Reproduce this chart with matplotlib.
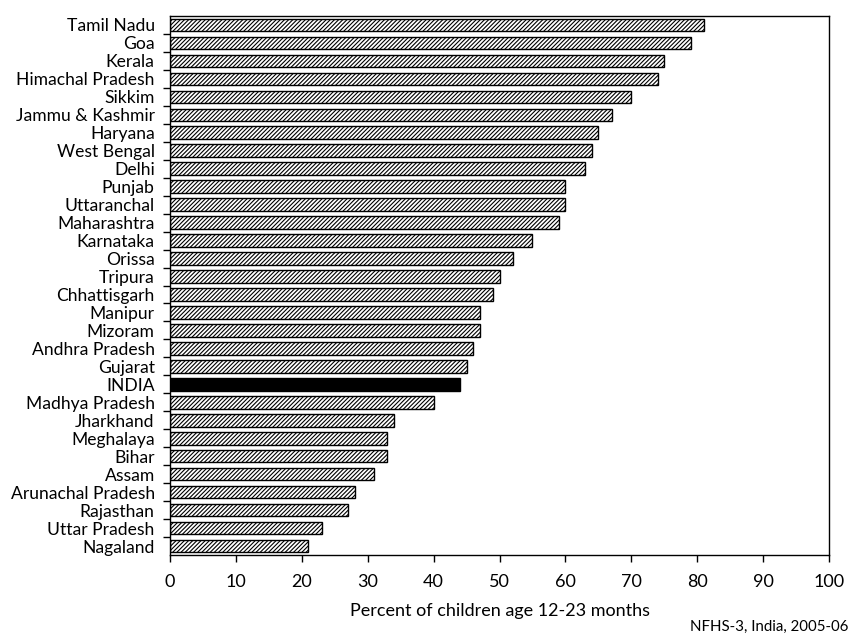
import matplotlib
matplotlib.use("Agg")
import matplotlib.pyplot as plt
import numpy as np

# data, top to bottom as in the chart
states = ["Tamil Nadu", "Goa", "Kerala", "Himachal Pradesh", "Sikkim",
          "Jammu & Kashmir", "Haryana", "West Bengal", "Delhi", "Punjab",
          "Uttaranchal", "Maharashtra", "Karnataka", "Orissa", "Tripura",
          "Chhattisgarh", "Manipur", "Mizoram", "Andhra Pradesh", "Gujarat",
          "INDIA", "Madhya Pradesh", "Jharkhand", "Meghalaya", "Bihar",
          "Assam", "Arunachal Pradesh", "Rajasthan", "Uttar Pradesh", "Nagaland"]
percent = [81, 79, 75, 74, 70, 67, 65, 64, 63, 60, 60, 59, 55, 52, 50,
           49, 47, 47, 46, 45, 44, 40, 34, 33, 33, 31, 28, 27, 23, 21]
x_ticks = [0, 10, 20, 30, 40, 50, 60, 70, 80, 90, 100]
x_label = "Percent of children age 12-23 months"
source = "NFHS-3, India, 2005-06"

plt.rcParams['font.family'] = ['Lato', 'DejaVu Sans']
plt.rcParams['hatch.linewidth'] = 0.8

fig = plt.figure(figsize=(8.55, 6.38), dpi=100)
ax = fig.add_axes([170 / 855, 1 - 555 / 638, 659 / 855, 539 / 638])

y = np.arange(len(states))
for i, (name, val) in enumerate(zip(states, percent)):
    if name == "INDIA":
        ax.barh(i, val, height=0.7, color="black", edgecolor="black", linewidth=1)
    else:
        ax.barh(i, val, height=0.7, color="white", edgecolor="black",
                hatch="////////", linewidth=1)

ax.set_xlim(0, 100)
ax.set_ylim(len(states) - 0.5, -0.5)
ax.set_xticks(x_ticks)
ax.set_xticklabels([str(t) for t in x_ticks], fontsize=13)
ax.tick_params(axis="x", direction="out", length=5, width=1, pad=9)

ax.set_yticks(y)
ax.set_yticklabels(states, fontsize=12.6)
ax.tick_params(axis="y", which="major", length=0, pad=11)
ax.set_yticks(np.arange(len(states) - 1) + 0.5, minor=True)
ax.tick_params(axis="y", which="minor", direction="out", length=5, width=1)

for s in ax.spines.values():
    s.set_linewidth(1)

ax.set_xlabel(x_label, fontsize=13, labelpad=9)
fig.text(848 / 855, 1 - 631 / 638, source, ha="right", va="baseline", fontsize=10.8)

fig.savefig("out.png", dpi=100)
